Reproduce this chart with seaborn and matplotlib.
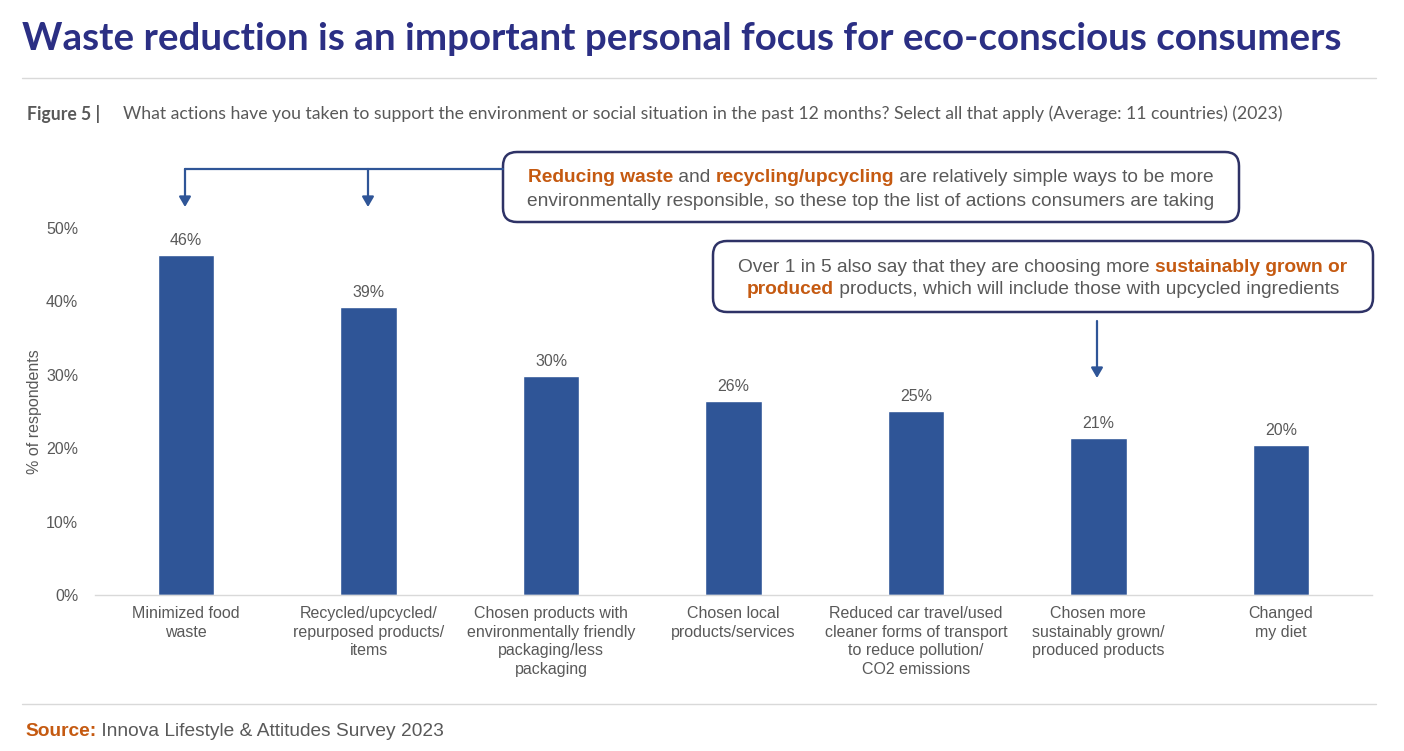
import numpy as np
import pandas as pd
import seaborn as sns
import matplotlib.pyplot as plt
from matplotlib.patches import FancyBboxPatch, FancyArrowPatch
from matplotlib.lines import Line2D
from matplotlib.transforms import IdentityTransform

# chart data
categories = [
    "Minimized food\nwaste",
    "Recycled/upcycled/\nrepurposed products/\nitems",
    "Chosen products with\nenvironmentally friendly\npackaging/less\npackaging",
    "Chosen local\nproducts/services",
    "Reduced car travel/used\ncleaner forms of transport\nto reduce pollution/\nCO2 emissions",
    "Chosen more\nsustainably grown/\nproduced products",
    "Changed\nmy diet",
]
values = [46.3, 39.2, 29.8, 26.4, 25.1, 21.4, 20.4]
value_labels = ["46%", "39%", "30%", "26%", "25%", "21%", "20%"]
y_ticks = [0, 10, 20, 30, 40, 50]
y_tick_labels = ["0%", "10%", "20%", "30%", "40%", "50%"]

title = "Waste reduction is an important personal focus for eco-conscious consumers"
fig_label = "Figure 5 |"
question = ("What actions have you taken to support the environment or social situation "
            "in the past 12 months? Select all that apply (Average: 11 countries) (2023)")

BAR = "#2F5597"
NAVY = "#2B2F84"
BOX_EDGE = "#2E3266"
ORANGE = "#C55A11"
GREY = "#595959"

W, H = 1404, 751
sns.set_theme(style="white")
plt.rcParams["font.family"] = ["Liberation Sans", "DejaVu Sans"]

fig = plt.figure(figsize=(W / 100, H / 100), dpi=100)
ax = fig.add_axes([95 / W, 1 - 595 / H, (1372 - 95) / W, 367 / H])

df = pd.DataFrame({"action": categories, "pct": values})
sns.barplot(data=df, x="action", y="pct", color=BAR, width=0.31, ax=ax, saturation=1)
ax.bar_label(ax.containers[0], labels=value_labels, padding=5, fontsize=11.5, color=GREY)

ax.set_xlim(-0.5, 6.5)
ax.set_ylim(0, 50)
ax.set_yticks(y_ticks)
ax.set_yticklabels(y_tick_labels)
ax.tick_params(axis="y", length=0, pad=12, labelsize=11.5, labelcolor=GREY)
ax.tick_params(axis="x", length=0, pad=8, labelsize=11.5, labelcolor=GREY)
ax.set_xlabel("")
ax.set_ylabel("")
for s in ["top", "right", "left"]:
    ax.spines[s].set_visible(False)
ax.spines["bottom"].set_color("#D9D9D9")
ax.spines["bottom"].set_linewidth(1)
for lab in ax.get_xticklabels():
    lab.set_linespacing(1.3)

fig.text(35 / W, 1 - 412 / H, "% of respondents", rotation=90, ha="center", va="center",
         fontsize=11.5, color=GREY)

# header / footer
fig.text(22 / W, 1 - 39 / H, title, fontsize=27.7, fontweight="bold", color=NAVY,
         family=["Lato", "DejaVu Sans"], va="center")
fig.add_artist(Line2D([22 / W, 1376 / W], [1 - 78 / H] * 2, color="#D9D9D9", lw=1))
fig.text(27 / W, 1 - 114 / H, fig_label, fontsize=12.7, fontweight="bold", color=GREY,
         family=["Lato", "DejaVu Sans"], va="center")
fig.text(123 / W, 1 - 114 / H, question, fontsize=12.7, color=GREY,
         family=["Lato", "DejaVu Sans"], va="center")
fig.add_artist(Line2D([22 / W, 1376 / W], [1 - 704 / H] * 2, color="#D9D9D9", lw=1))

renderer = fig.canvas.get_renderer()


def rich_line(x, y, segments, size, center=True):
    # segments: list of (text, bold)
    texts = []
    for txt, bold in segments:
        t = fig.text(0, 0, txt, fontsize=size, transform=IdentityTransform(),
                     fontweight="bold" if bold else "normal",
                     color=ORANGE if bold else GREY, va="center", ha="left")
        texts.append(t)
    widths = [t.get_window_extent(renderer).width for t in texts]
    start = x - sum(widths) / 2 if center else x
    for t, w in zip(texts, widths):
        t.set_position((start, H - y))
        start += w


rich_line(25, 731, [("Source:", True), (" Innova Lifestyle & Attitudes Survey 2023", False)],
          13.8, center=False)


def box(x0, y0, x1, y1):
    p = FancyBboxPatch((x0, H - y1), x1 - x0, y1 - y0,
                       boxstyle="round,pad=0,rounding_size=14",
                       transform=IdentityTransform(), fc="white", ec=BOX_EDGE, lw=1.8)
    fig.add_artist(p)


def arrow(x, y0, y1):
    a = FancyArrowPatch((x, H - y0), (x, H - y1), transform=IdentityTransform(),
                        arrowstyle="-|>,head_length=6,head_width=3.5", color=BAR, lw=1.6,
                        shrinkA=0, shrinkB=0)
    fig.add_artist(a)


# callout 1
fig.add_artist(Line2D([185, 503], [H - 169, H - 169], transform=IdentityTransform(),
                      color=BAR, lw=1.6))
arrow(185, 169, 207)
arrow(368, 169, 207)
box(503, 152, 1239, 222)
rich_line(871, 178, [("Reducing waste", True), (" and ", False), ("recycling/upcycling", True),
                     (" are relatively simple ways to be more", False)], 13.8)
rich_line(871, 201, [("environmentally responsible, so these top the list of actions consumers are taking",
                      False)], 13.8)

# callout 2
box(713, 241, 1373, 312)
rich_line(1043, 267, [("Over 1 in 5 also say that they are choosing more ", False),
                      ("sustainably grown or", True)], 13.8)
rich_line(1043, 290, [("produced", True),
                      (" products, which will include those with upcycled ingredients", False)], 13.8)
arrow(1097, 321, 378)

fig.savefig("out.png", dpi=100)
